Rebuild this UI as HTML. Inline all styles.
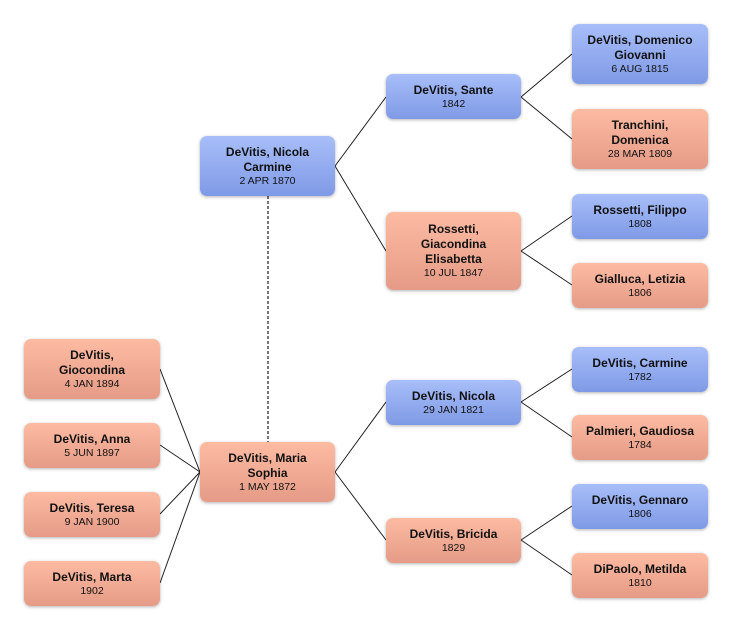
<!DOCTYPE html>
<html><head><style>
body{margin:0;width:732px;height:631px;background:#fff;position:relative;overflow:hidden;font-family:"Liberation Sans",sans-serif;}
.b{position:absolute;border-radius:7px;display:flex;flex-direction:column;justify-content:center;align-items:center;text-align:center;box-shadow:0 1px 3px rgba(0,0,0,.3);color:#111;}
.m{background:linear-gradient(#a8bef9,#7f9ae6);}
.f{background:linear-gradient(#fdbba2,#e59b87);}
.n{font-weight:bold;font-size:12px;line-height:15px;}
.d{font-size:10.5px;line-height:13px;}
svg{position:absolute;left:0;top:0}
</style></head><body>
<svg width="732" height="631" stroke="#222" stroke-width="1" fill="none">
<line x1="268" y1="196" x2="268" y2="442" stroke="#777" stroke-width="2" stroke-dasharray="3,2"/>
<path d="M335 166L386 97M335 166L386 251M521 97L572 54M521 97L572 139M521 251L572 216M521 251L572 285M335 472L386 402M335 472L386 540M521 402L572 369M521 402L572 437M521 540L572 506M521 540L572 575M160 369L200 472M160 445L200 472M160 514L200 472M160 583L200 472"/>
</svg>
<div class="b m" style="left:200px;top:136px;width:135px;height:60px"><div class="n">DeVitis, Nicola<br>Carmine</div><div class="d">2 APR 1870</div></div>
<div class="b f" style="left:200px;top:442px;width:135px;height:60px"><div class="n">DeVitis, Maria<br>Sophia</div><div class="d">1 MAY 1872</div></div>
<div class="b f" style="left:24px;top:339px;width:136px;height:60px"><div class="n">DeVitis,<br>Giocondina</div><div class="d">4 JAN 1894</div></div>
<div class="b f" style="left:24px;top:423px;width:136px;height:45px"><div class="n">DeVitis, Anna</div><div class="d">5 JUN 1897</div></div>
<div class="b f" style="left:24px;top:492px;width:136px;height:45px"><div class="n">DeVitis, Teresa</div><div class="d">9 JAN 1900</div></div>
<div class="b f" style="left:24px;top:561px;width:136px;height:45px"><div class="n">DeVitis, Marta</div><div class="d">1902</div></div>
<div class="b m" style="left:386px;top:74px;width:135px;height:45px"><div class="n">DeVitis, Sante</div><div class="d">1842</div></div>
<div class="b f" style="left:386px;top:212px;width:135px;height:78px"><div class="n">Rossetti,<br>Giacondina<br>Elisabetta</div><div class="d">10 JUL 1847</div></div>
<div class="b m" style="left:386px;top:380px;width:135px;height:45px"><div class="n">DeVitis, Nicola</div><div class="d">29 JAN 1821</div></div>
<div class="b f" style="left:386px;top:518px;width:135px;height:45px"><div class="n">DeVitis, Bricida</div><div class="d">1829</div></div>
<div class="b m" style="left:572px;top:24px;width:136px;height:60px"><div class="n">DeVitis, Domenico<br>Giovanni</div><div class="d">6 AUG 1815</div></div>
<div class="b f" style="left:572px;top:109px;width:136px;height:60px"><div class="n">Tranchini,<br>Domenica</div><div class="d">28 MAR 1809</div></div>
<div class="b m" style="left:572px;top:194px;width:136px;height:45px"><div class="n">Rossetti, Filippo</div><div class="d">1808</div></div>
<div class="b f" style="left:572px;top:263px;width:136px;height:45px"><div class="n">Gialluca, Letizia</div><div class="d">1806</div></div>
<div class="b m" style="left:572px;top:347px;width:136px;height:45px"><div class="n">DeVitis, Carmine</div><div class="d">1782</div></div>
<div class="b f" style="left:572px;top:415px;width:136px;height:45px"><div class="n">Palmieri, Gaudiosa</div><div class="d">1784</div></div>
<div class="b m" style="left:572px;top:484px;width:136px;height:45px"><div class="n">DeVitis, Gennaro</div><div class="d">1806</div></div>
<div class="b f" style="left:572px;top:553px;width:136px;height:45px"><div class="n">DiPaolo, Metilda</div><div class="d">1810</div></div>
</body></html>
